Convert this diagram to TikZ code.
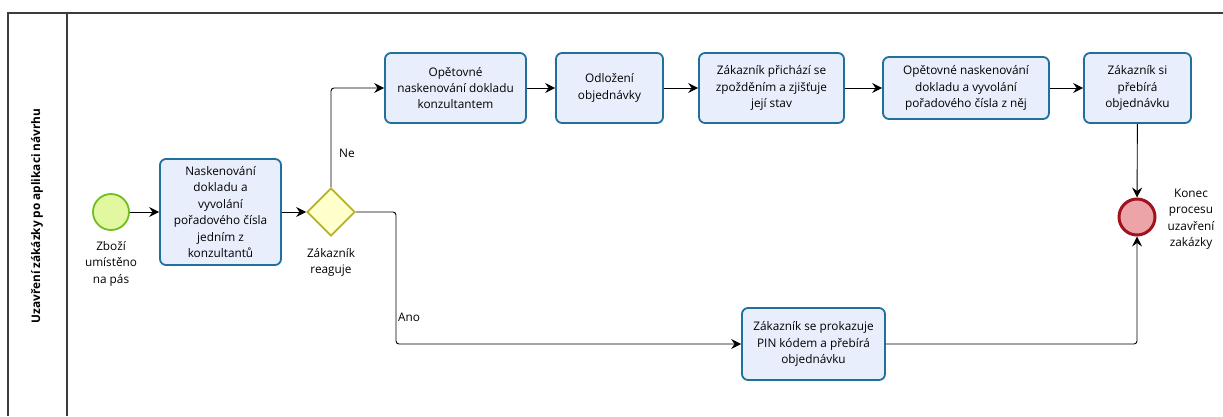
\documentclass[tikz,border=0pt]{standalone}
\usepackage{fontspec}
\setmainfont{Open Sans}
\usetikzlibrary{arrows.meta,shapes.geometric}
\definecolor{taskline}{RGB}{32,112,158}
\definecolor{taskfill}{RGB}{232,238,252}
\definecolor{gwline}{RGB}{180,178,40}
\definecolor{gwfill}{RGB}{255,255,204}
\definecolor{startline}{RGB}{112,190,32}
\definecolor{startfill}{RGB}{226,248,160}
\definecolor{endline}{RGB}{160,18,28}
\definecolor{endfill}{RGB}{236,164,168}
\definecolor{poolline}{RGB}{60,60,60}
\tikzset{
  every node/.style={font=\fontsize{11.8}{16.4}\selectfont},
  taskbox/.style={draw=taskline, line width=1.8pt, fill=taskfill,
    rounded corners=6pt, align=center, inner sep=0pt},
  gateway/.style={draw=gwline, line width=1.8pt, fill=gwfill, shape=diamond,
    minimum width=48pt, minimum height=48pt, inner sep=0pt},
  startev/.style={draw=startline, line width=1.8pt, fill=startfill, circle,
    minimum size=36pt, inner sep=0pt},
  endev/.style={draw=endline, line width=3pt, fill=endfill, circle,
    minimum size=36pt, inner sep=0pt},
  flow/.style={draw=black, line width=0.9pt, rounded corners=3pt,
    -{Stealth[length=10pt,width=10pt,inset=3.5pt]}},
  lbl/.style={align=center, inner sep=0pt},
  poolframe/.style={draw=poolline, line width=1.3pt},
}
\begin{document}
\begin{tikzpicture}[x=1pt,y=-1pt]
\useasboundingbox (0,0) rectangle (1223,416);
% pool and lane
\draw[poolframe] (8,416) -- (8,13) -- (1223,13);
\draw[poolframe] (67,13) -- (67,416);
\node[rotate=90, font=\fontsize{11.8}{14}\selectfont\bfseries] (lane) at (37,216)
  {Uzavření zákázky po aplikaci návrhu};

% events and gateway
\node[startev] (start) at (111,212) {};
\node[lbl, anchor=north] (startlbl) at (111,241) {Zboží\\umístěno\\na pás};
\node[gateway] (gw) at (331,212) {};
\node[lbl, anchor=north] (gwlbl) at (331,248) {Zákazník\\reaguje};
\node[endev] (end) at (1137,217) {};
\node[lbl] (endlbl) at (1191,219) {Konec\\procesu\\uzavření\\zakázky};

% tasks
\node[taskbox, minimum width=121pt, minimum height=106pt] (scan) at (220.5,212)
  {Naskenování\\dokladu a\\vyvolání\\pořadového čísla\\jedním z\\konzultantů};
\node[taskbox, minimum width=141pt, minimum height=70pt] (rescan) at (455.5,88)
  {Opětovné\\naskenování dokladu\\konzultantem};
\node[taskbox, minimum width=107pt, minimum height=70pt] (defer) at (609.5,88)
  {Odložení\\objednávky};
\node[taskbox, minimum width=145pt, minimum height=70pt] (late) at (771.5,88)
  {Zákazník přichází se\\zpožděním a zjišťuje\\její stav};
\node[taskbox, minimum width=166pt, minimum height=62pt] (rescan2) at (966,88)
  {Opětovné naskenování\\dokladu a vyvolání\\pořadového čísla z něj};
\node[taskbox, minimum width=107pt, minimum height=70pt] (pickup) at (1137.5,88)
  {Zákazník si\\přebírá\\objednávku};
\node[taskbox, minimum width=143pt, minimum height=72pt] (pin) at (813.5,344)
  {Zákazník se prokazuje\\PIN kódem a přebírá\\objednávku};

% sequence flows
\coordinate (anoturn) at (396,212);
\draw[flow] (start) -- (scan);
\draw[flow] (scan) -- (gw);
\draw[flow] (gw.north) -- (gw.north |- rescan.west) -- (rescan.west);
\draw[flow] (rescan) -- (defer);
\draw[flow] (defer) -- (late);
\draw[flow] (late) -- (rescan2);
\draw[flow] (rescan2) -- (pickup);
\draw[flow] (pickup) -- (end);
\draw[flow] (gw.east) -- (anoturn) -- (anoturn |- pin.west) -- (pin.west);
\draw[flow] (pin.east) -- (end.south |- pin.east) -- (end.south);

% flow labels
\node[lbl, anchor=west] (ne) at (339,153) {Ne};
\node[lbl, anchor=west] (ano) at (398,317) {Ano};
\end{tikzpicture}
\end{document}
